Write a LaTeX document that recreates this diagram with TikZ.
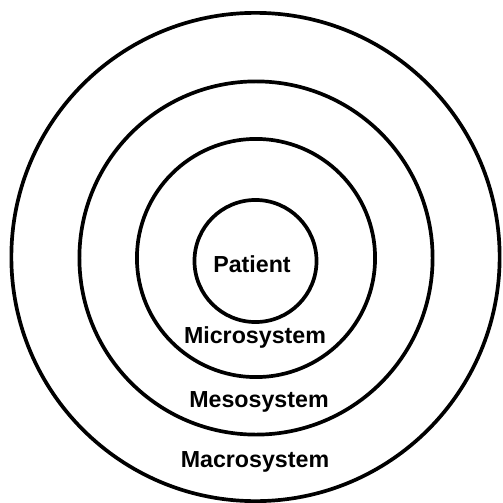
\documentclass[tikz,border=0pt]{standalone}
\usepackage{fontspec}
\setmainfont{Liberation Sans}
\usepackage{tikz}
\usetikzlibrary{positioning}
\tikzset{
  every picture/.style={line width=1.05pt},
  ring/.style={draw, circle, inner sep=0pt},
  lbl/.style={font=\fontsize{6.6}{7}\selectfont\bfseries, inner sep=0pt}
}

\begin{document}
\begin{tikzpicture}[x=0.01cm, y=-0.01cm]
    \useasboundingbox (0,0) rectangle (502,503);

    \node [ring, minimum size=4.88cm] (macro) at (255.5,257) {};
    \node [ring, minimum size=3.53cm] (meso) at (256,258) {};
    \node [ring, minimum size=2.38cm] (micro) at (256,258) {};
    \node [ring, minimum size=1.22cm] (patient) at (255.5,261) {};

    \node [lbl] (patientLbl) at (252,264) {Patient};
    \node [lbl] (microLbl) at (255,337) {Microsystem};
    \node [lbl] (mesoLbl) at (259,402) {Mesosystem};
    \node [lbl] (macroLbl) at (255,462) {Macrosystem};
  \end{tikzpicture}
\end{document}
